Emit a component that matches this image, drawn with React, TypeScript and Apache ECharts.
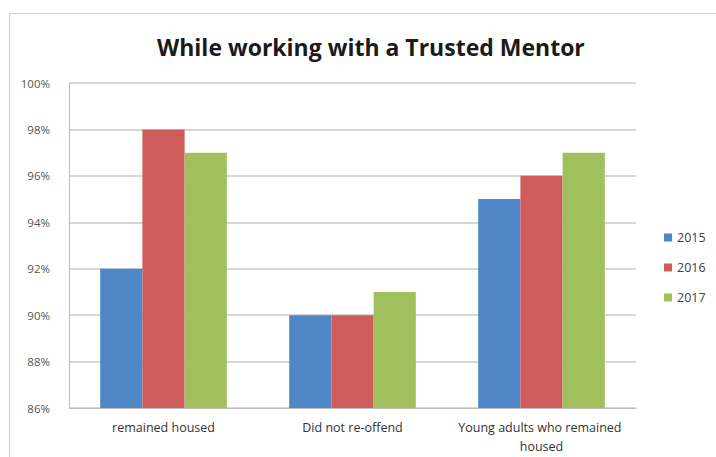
import React, { useEffect, useRef } from "react";
import * as echarts from "echarts";

const categories = ["remained housed", "Did not re-offend", "Young adults who remained housed"];
const years = ["2015", "2016", "2017"];
const values2015 = [92, 90, 95];
const values2016 = [98, 90, 96];
const values2017 = [97, 91, 97];
const yTicks = { min: 86, max: 100, interval: 2 };
const colors = ["#4f86c6", "#cd5c5a", "#a0c05e"];

export default function App() {
  const ref = useRef<HTMLDivElement>(null);
  useEffect(() => {
    if (!ref.current) return;
    const chart = echarts.init(ref.current, undefined, { renderer: "svg" });
    const seriesData = [values2015, values2016, values2017];
    chart.setOption({
      animation: false,
      backgroundColor: "#ffffff",
      title: {
        text: "While working with a Trusted Mentor",
        left: 152,
        top: 30,
        textStyle: { fontFamily: "Open Sans", fontWeight: "bold", fontSize: 23, color: "#1a1a1a" },
      },
      graphic: [
        {
          type: "rect",
          shape: { x: 9.5, y: 13.5, width: 720, height: 460 },
          style: { fill: "none", stroke: "#d0d0d0", lineWidth: 1 },
          silent: true,
        },
      ],
      legend: {
        orient: "vertical",
        left: 659,
        top: 226,
        itemWidth: 8,
        itemHeight: 8,
        itemGap: 17,
        icon: "rect",
        textStyle: { fontFamily: "Open Sans", fontSize: 12.5, color: "#404040" },
        data: years,
      },
      grid: { left: 69, right: 80, top: 83, bottom: 49 },
      xAxis: {
        type: "category",
        data: categories,
        axisLine: { lineStyle: { color: "#bfbfbf" } },
        axisTick: { show: false },
        axisLabel: {
          fontFamily: "Open Sans",
          fontSize: 12.5,
          color: "#333333",
          margin: 10,
          width: 190,
          overflow: "break",
          lineHeight: 19,
          interval: 0,
        },
      },
      yAxis: {
        type: "value",
        min: yTicks.min,
        max: yTicks.max,
        interval: yTicks.interval,
        axisLine: { show: true, lineStyle: { color: "#bfbfbf" } },
        axisTick: { show: false },
        splitLine: { lineStyle: { color: "#c8c8c8", width: 1.5 } },
        axisLabel: {
          formatter: "{value}%",
          fontFamily: "Open Sans",
          fontSize: 11.5,
          color: "#555555",
          margin: 19,
        },
      },
      series: years.map((y, i) => ({
        name: y,
        type: "bar",
        data: seriesData[i],
        barGap: "0%",
        barCategoryGap: "33%",
        itemStyle: { color: colors[i] },
      })),
    });
    return () => chart.dispose();
  }, []);
  return (
    <div
      ref={ref}
      style={{ position: "fixed", left: 0, top: 0, width: 716, height: 457 }}
    />
  );
}
